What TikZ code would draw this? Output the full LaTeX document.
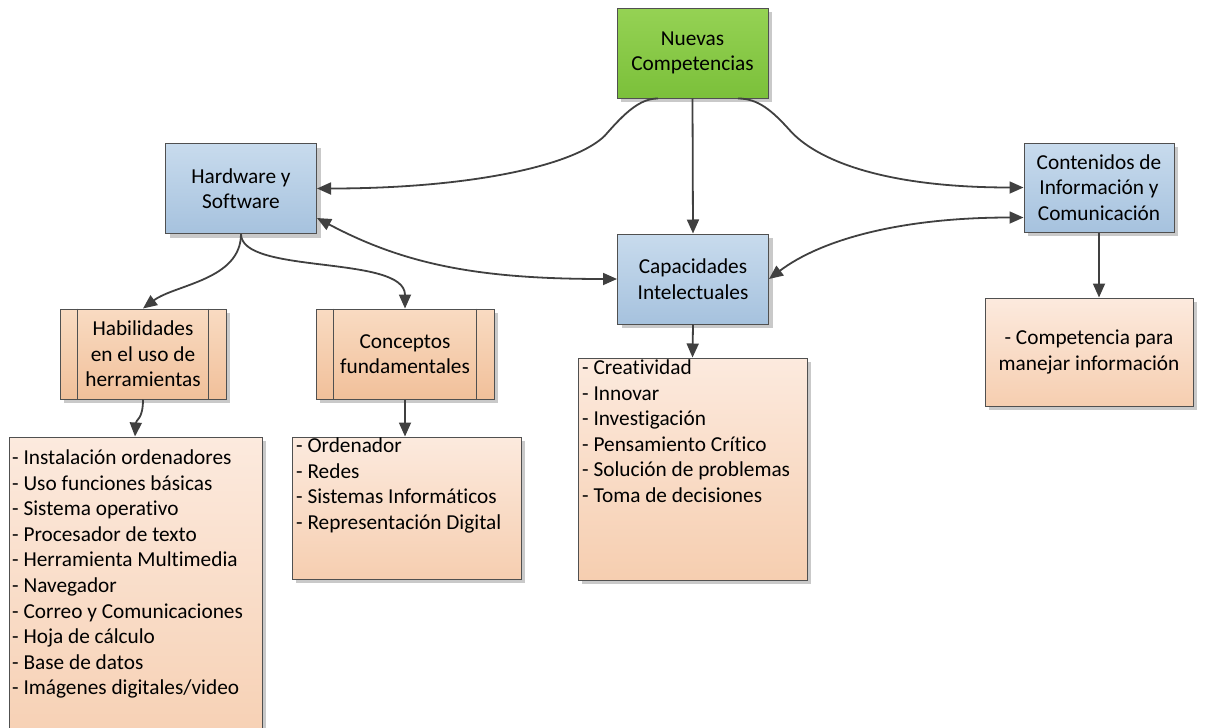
\documentclass[tikz,border=0pt]{standalone}
\usepackage{fontspec}
\setmainfont{Carlito}[Ligatures={NoCommon}]
\usetikzlibrary{arrows.meta,shadows,calc}

\definecolor{edge}{HTML}{505050}
\definecolor{linec}{HTML}{404040}
\definecolor{greenA}{HTML}{95D254}
\definecolor{greenB}{HTML}{7BC03A}
\definecolor{blueA}{HTML}{C8DBED}
\definecolor{blueB}{HTML}{A6C2DE}
\definecolor{peachA}{HTML}{F9DBC2}
\definecolor{peachB}{HTML}{F1C09A}
\definecolor{listA}{HTML}{FCEADE}
\definecolor{listB}{HTML}{F6CEB0}
\definecolor{shade}{HTML}{C9C9C9}

\begin{document}
\begin{tikzpicture}[x=1pt,y=-1pt,
  font=\fontsize{21.3}{25.6}\selectfont,
  box/.style={rectangle, draw=edge, line width=1pt, align=center, inner sep=2pt,
    drop shadow={shadow xshift=4pt, shadow yshift=-4pt, fill=shade, opacity=1}},
  greenbox/.style={box, top color=greenA, bottom color=greenB,
    minimum width=151pt, minimum height=90pt},
  bluebox/.style={box, top color=blueA, bottom color=blueB,
    minimum width=151pt, minimum height=90pt},
  procbox/.style={box, top color=peachA, bottom color=peachB,
    minimum width=166pt, minimum height=90pt},
  listbox/.style={box, top color=listA, bottom color=listB},
  listtext/.style={anchor=base west, inner sep=0pt, align=left},
  conn/.style={draw=linec, line width=1.8pt, -{Triangle[length=14pt,width=12pt]}},
  both/.style={conn, {Triangle[length=14pt,width=12pt]}-{Triangle[length=14pt,width=12pt]}},
  bar/.style={draw=edge, line width=1pt}
]
\useasboundingbox (0,0) rectangle (1208,728);
\clip (0,0) rectangle (1208,728);

% main concept boxes
\node[greenbox] (nc)   at (692.5,53)  {Nuevas\\Competencias};
\node[bluebox]  (hw)   at (241,188.5) {Hardware y\\Software};
\node[bluebox]  (cap)  at (693,279)   {Capacidades\\Intelectuales};
\node[bluebox, minimum width=150pt, minimum height=89pt]
                (cont) at (1099,187.5) {Contenidos de\\Información y\\Comunicación};

% predefined-process boxes
\node[procbox] (hab) at (143,354) {Habilidades\\en el uso de\\herramientas};
\node[procbox, minimum width=178pt] (con) at (405,354) {Conceptos\\fundamentales};
\foreach \n in {hab,con}{
  \draw[bar] ([xshift=18pt]\n.north west) -- ([xshift=18pt]\n.south west);
  \draw[bar] ([xshift=-18pt]\n.north east) -- ([xshift=-18pt]\n.south east);
}

% list boxes
\node[listbox, minimum width=253pt, minimum height=330pt] (l1) at (135.5,602) {};
\node[listbox, minimum width=229pt, minimum height=142pt] (l2) at (406.5,508) {};
\node[listbox, minimum width=229pt, minimum height=222pt] (l3) at (692.5,469) {};
\node[listbox, minimum width=208pt, minimum height=108pt] (l4) at (1089,352)
  {- Competencia para\\manejar información};

\node[listtext] (t1) at ($(l1.north west)+(3.5,28)$) {%
  \begin{tabular}[t]{@{}l@{}}
  - Instalación ordenadores\\
  - Uso funciones básicas\\
  - Sistema operativo\\
  - Procesador de texto\\
  - Herramienta Multimedia\\
  - Navegador\\
  - Correo y Comunicaciones\\
  - Hoja de cálculo\\
  - Base de datos\\
  - Imágenes digitales/video
  \end{tabular}};
\node[listtext] (t2) at ($(l2.north west)+(4.5,16)$) {%
  \begin{tabular}[t]{@{}l@{}}
  - Ordenador\\
  - Redes\\
  - Sistemas Informáticos\\
  - Representación Digital
  \end{tabular}};
\node[listtext] (t3) at ($(l3.north west)+(4.5,17)$) {%
  \begin{tabular}[t]{@{}l@{}}
  - Creatividad\\
  - Innovar\\
  - Investigación\\
  - Pensamiento Crítico\\
  - Solución de problemas\\
  - Toma de decisiones
  \end{tabular}};

% connectors
\draw[conn] (nc.south) -- (cap.north);
\draw[conn] ([xshift=-34.5pt]nc.south)
  .. controls ($(nc.south)+(-52.5,0)$) and ($(nc.south)+(-67.5,14)$) .. ($(nc.south)+(-87.5,37)$)
  .. controls ($(nc.south)+(-117.5,67)$) and ($(hw.east)+(153.5,0)$) .. (hw.east);
\draw[conn] ([xshift=45.5pt]nc.south)
  .. controls ($(nc.south)+(65.5,0)$) and ($(nc.south)+(79.5,12)$) .. ($(nc.south)+(97.5,32)$)
  .. controls ($(nc.south)+(122.5,60)$) and ($(cont.west)+(-144,0)$) .. (cont.west);

\coordinate (hwlow)   at ([yshift=-29.5pt]hw.east);
\coordinate (contlow) at ([yshift=-30pt]cont.west);
\draw[both] (hwlow) .. controls ($(hwlow)+(88.5,47)$) and ($(cap.west)+(-137,0)$) .. (cap.west);
\draw[both] (cap.east) .. controls ($(cap.east)+(51.5,-39)$) and ($(contlow)+(-124,0)$) .. (contlow);

\draw[conn] (hw.south) .. controls ($(hw.south)+(0,46)$) and ($(hab.north)+(32,-24)$) .. (hab.north);
\draw[conn] (hw.south) .. controls ($(hw.south)+(0,41)$) and ($(con.north)+(0,-54)$) .. (con.north);

\coordinate (l1in) at ([xshift=-0.5pt]l1.north);
\draw[conn] (hab.south) .. controls ($(hab.south)+(0,20)$) and ($(l1in)+(1,-17)$) .. (l1in);
\draw[conn] (con.south) -- (con.south |- l2.north);
\draw[conn] (cap.south) -- (l3.north);
\draw[conn] (cont.south) -- (cont.south |- l4.north);
\end{tikzpicture}
\end{document}
